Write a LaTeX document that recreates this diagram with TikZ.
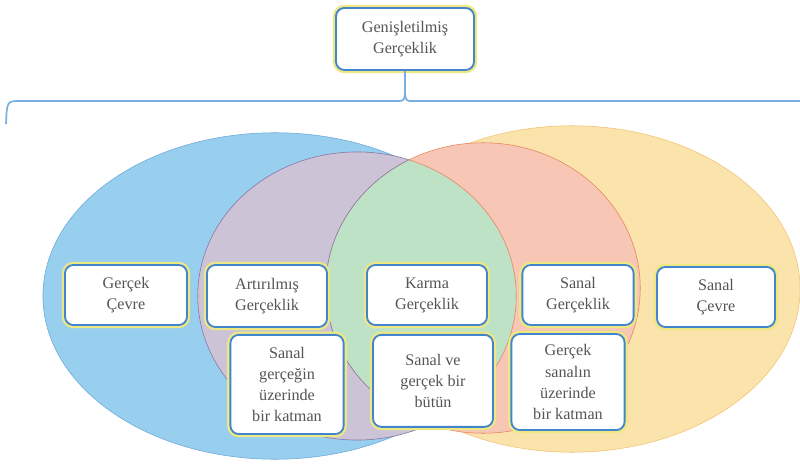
\documentclass[tikz,border=0pt]{standalone}
\usepackage{fontspec}
\setmainfont{Liberation Serif}
\usetikzlibrary{positioning}
\definecolor{boxblue}{RGB}{66,133,204}
\definecolor{boxglow}{RGB}{238,232,130}
\definecolor{txtgray}{RGB}{85,85,85}
\definecolor{realblue}{RGB}{152,206,238}
\definecolor{realline}{RGB}{105,170,218}
\definecolor{augpurple}{RGB}{204,196,214}
\definecolor{augline}{RGB}{135,115,165}
\definecolor{mixgreen}{RGB}{190,226,198}
\definecolor{virtred}{RGB}{247,198,180}
\definecolor{virtline}{RGB}{232,130,95}
\definecolor{virtyellow}{RGB}{251,227,172}
\definecolor{yellowline}{RGB}{242,195,115}
\definecolor{bracecol}{RGB}{120,175,225}

\begin{document}
\begin{tikzpicture}[x=0.025cm,y=-0.025cm,
  box/.style={draw=boxblue,line width=1.3pt,rounded corners=6pt,fill=white,align=center,
    text=txtgray,font=\fontsize{11.5}{15}\selectfont,inner sep=2pt,
    minimum width=3cm,minimum height=1.5cm,preaction={draw=boxglow,line width=4.5pt}},
  brace/.style={draw=bracecol,line width=1.2pt}
]
\useasboundingbox (0,0) rectangle (800,464);
% circles
\coordinate (creal) at (275,296);
\coordinate (cvirt) at (572,289);
\coordinate (caug) at (357,296);
\coordinate (cmix) at (483,288);
\filldraw[fill=realblue,draw=realline] (creal) ellipse [x radius=5.8cm,y radius=4.08cm];
\filldraw[fill=virtyellow,draw=yellowline] (cvirt) ellipse [x radius=5.7cm,y radius=4.08cm];
\filldraw[fill=augpurple,draw=augline] (caug) ellipse [x radius=3.98cm,y radius=3.6cm];
\filldraw[fill=virtred,draw=virtline] (cmix) ellipse [x radius=3.93cm,y radius=3.63cm];
\begin{scope}
  \clip (caug) ellipse [x radius=3.98cm,y radius=3.6cm];
  \fill[mixgreen] (cmix) ellipse [x radius=3.93cm,y radius=3.63cm];
  \draw[augline] (cmix) ellipse [x radius=3.93cm,y radius=3.63cm];
\end{scope}
\begin{scope}
  \clip (cmix) ellipse [x radius=3.93cm,y radius=3.63cm];
  \draw[virtline] (caug) ellipse [x radius=3.98cm,y radius=3.6cm];
\end{scope}

% boxes
\node[box,minimum width=3.45cm,minimum height=1.55cm] (xr) at (405,39) {Genişletilmiş\\Gerçeklik};
\node[box,minimum width=3.05cm] (real) at (126,295) {Gerçek\\Çevre};
\node[box,minimum height=1.55cm] (ar) at (267,296) {Artırılmış\\Gerçeklik};
\node[box,minimum width=2.83cm,minimum height=2.48cm,below=0.15cm of ar,xshift=0.5cm] (arnote)
  {Sanal\\gerçeğin\\üzerinde\\bir katman};
\node[box] (mr) at (427,295) {Karma\\Gerçeklik};
\node[box,minimum height=2.3cm,below=0.2cm of mr,xshift=0.15cm] (mrnote)
  {Sanal ve\\gerçek bir\\bütün};
\node[box,minimum width=2.78cm] (vr) at (578,295) {Sanal\\Gerçeklik};
\node[box,minimum width=2.83cm,minimum height=2.4cm,below=0.18cm of vr,xshift=-0.25cm] (vrnote)
  {Gerçek\\sanalın\\üzerinde\\bir katman};
\node[box,minimum width=2.95cm] (virt) at (716,297) {Sanal\\Çevre};

% brace
\coordinate (bl) at (6,124);
\coordinate (br) at (800,101);
\coordinate (tip) at (405,93);
\draw[brace] (bl) .. controls (7,101) .. (20,101) -- (397,101) .. controls (404,101) .. (tip) -- (xr.south);
\draw[brace] (tip) .. controls (406,101) .. (413,101) -- (br);
\end{tikzpicture}
\end{document}
